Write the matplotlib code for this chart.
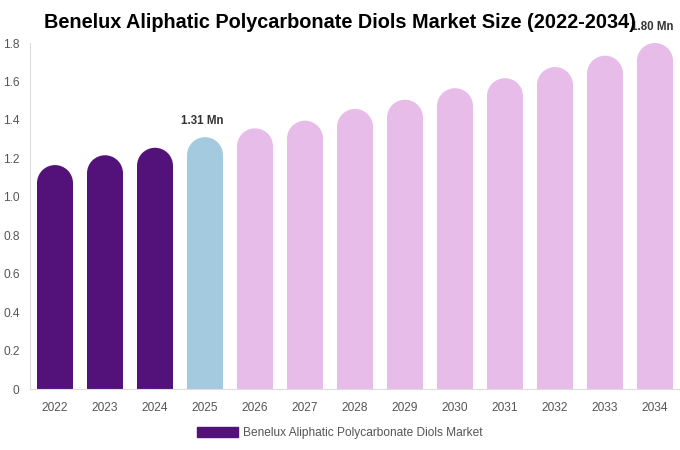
import matplotlib
matplotlib.use("Agg")
import matplotlib.pyplot as plt
from matplotlib.patches import Ellipse, Patch

plt.rcParams['font.family'] = ['Liberation Sans', 'DejaVu Sans']

years = ['2022', '2023', '2024', '2025', '2026', '2027', '2028',
         '2029', '2030', '2031', '2032', '2033', '2034']
values = [1.165, 1.216, 1.255, 1.31, 1.356, 1.396, 1.457,
          1.505, 1.565, 1.617, 1.675, 1.734, 1.80]
labels = {3: '1.31 Mn', 12: '1.80 Mn'}
yticks = [0, 0.2, 0.4, 0.6, 0.8, 1.0, 1.2, 1.4, 1.6, 1.8]

dark = '#53127A'
blue = '#A3CADE'
pink = '#E7BCE8'

def bar_color(i):
    if i < 3:
        return dark
    if i == 3:
        return blue
    return pink

fig = plt.figure(figsize=(6.8, 4.5), dpi=100)
ax = fig.add_axes([30 / 680, 61 / 450, 650 / 680, 346 / 450])
ax.set_xlim(-0.5, 12.5)
ax.set_ylim(0, 1.8)

width = 0.72
# radius of the rounded top in data units (half the bar width in pixels)
px_per_x = 650 / 13
px_per_y = 346 / 1.8
ry = (width / 2) * px_per_x / px_per_y

for i, v in enumerate(values):
    c = bar_color(i)
    ax.bar(i, v - ry, width=width, color=c, linewidth=0)
    ax.add_patch(Ellipse((i, v - ry), width, 2 * ry, color=c, linewidth=0))
    if i in labels:
        ax.annotate(labels[i], (i, v), xytext=(-2, 11.5), textcoords='offset points',
                    ha='center', va='center', fontsize=8.3, fontweight='bold',
                    color='#333333', zorder=1)

ax.set_xticks(range(len(years)))
ax.set_xticklabels(years)
ax.set_yticks(yticks)
ax.set_yticklabels(['0' if t == 0 else f'{t:.1f}' for t in yticks])
ax.tick_params(axis='both', length=0, labelsize=8.6, labelcolor='#555555')
ax.tick_params(axis='x', pad=9.5)
ax.tick_params(axis='y', pad=7.5)

for s in ['top', 'right']:
    ax.spines[s].set_visible(False)
ax.spines['left'].set_color('#DDDDDD')
ax.spines['bottom'].set_color('#DDDDDD')

fig.text(0.5, 0.951, 'Benelux Aliphatic Polycarbonate Diols Market Size (2022-2034)',
         ha='center', va='center', fontsize=14.3, fontweight='bold', color='#000000',
         zorder=5)

fig.legend(handles=[Patch(color=dark, label='Benelux Aliphatic Polycarbonate Diols Market')],
           loc='center', bbox_to_anchor=(0.5, 0.038), frameon=False, fontsize=8.6,
           labelcolor='#555555', handlelength=3.4, handleheight=0.9, handletextpad=0.5)

fig.savefig('out.png', dpi=100)
